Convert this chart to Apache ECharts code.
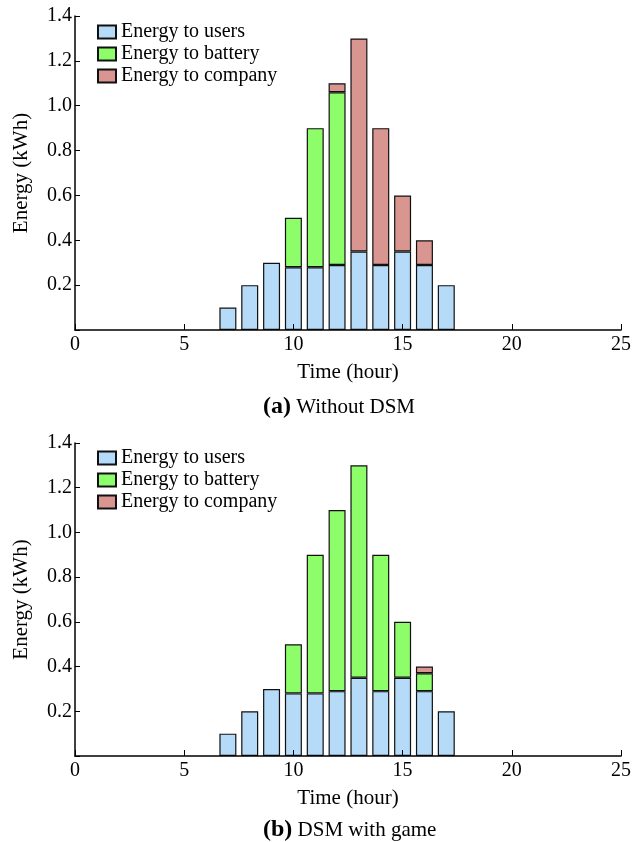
<!DOCTYPE html>
<html>
<head>
<meta charset="utf-8">
<script src="https://cdn.jsdelivr.net/npm/echarts@6/dist/echarts.min.js"></script>
<style>
  html, body { margin: 0; padding: 0; background: #fff; }
  #chart { width: 644px; height: 842px; }
</style>
</head>
<body>
<div id="chart"></div>
<script>
const hours = [7, 8, 9, 10, 11, 12, 13, 14, 15, 16, 17]
const xCats = Array.from({ length: 26 }, (_, i) => String(i))  // 0..25 h
const yTicks = [0.2, 0.4, 0.6, 0.8, 1.0, 1.2, 1.4]

// (a) without DSM
const usersA = [0.1, 0.2, 0.3, 0.28, 0.28, 0.29, 0.35, 0.29, 0.35, 0.29, 0.2]
const batteryA = [null, null, null, 0.22, 0.62, 0.77, null, null, null, null, null]
const companyA = [null, null, null, null, null, 0.04, 0.95, 0.61, 0.25, 0.11, null]

// (b) DSM with game
const usersB = [0.1, 0.2, 0.3, 0.28, 0.28, 0.29, 0.35, 0.29, 0.35, 0.29, 0.2]
const batteryB = [null, null, null, 0.22, 0.62, 0.81, 0.95, 0.61, 0.25, 0.08, null]
const companyB = [null, null, null, null, null, null, null, null, null, 0.03, null]

const names = ['Energy to users', 'Energy to battery', 'Energy to company']
const colors = ['#b5dbf9', '#8dfd6a', '#d9958f']
const font = 'Liberation Serif'

const chart = echarts.init(document.getElementById('chart'))

// spread the hourly values over the 0..25 category axis
function toCats(vals) {
  return xCats.map(c => {
    const i = hours.indexOf(Number(c))
    return i < 0 || vals[i] === null ? '-' : vals[i]
  })
}

function barSeries(idx, name, vals, stack) {
  return {
    name: name,
    type: 'bar',
    stack: stack,
    xAxisIndex: idx,
    yAxisIndex: idx,
    barWidth: 17,
    data: toCats(vals),
    itemStyle: { color: colors[names.indexOf(name)], borderColor: '#111', borderWidth: 1.2 },
    emphasis: { disabled: true }
  }
}

function xAxis(idx) {
  return {
    type: 'category',
    gridIndex: idx,
    data: xCats,
    boundaryGap: false,
    name: 'Time (hour)',
    nameLocation: 'middle',
    nameGap: 32,
    nameTextStyle: { fontFamily: font, fontSize: 21, color: '#000' },
    axisLine: { lineStyle: { color: '#000', width: 1.5 } },
    axisTick: { inside: true, length: 6, interval: 4, lineStyle: { color: '#000' } },
    axisLabel: { fontFamily: font, fontSize: 20, color: '#000', margin: 5, interval: 4 },
    splitLine: { show: false },
    z: 10
  }
}

function yAxis(idx) {
  return {
    type: 'value',
    gridIndex: idx,
    min: 0,
    max: 1.4,
    interval: 0.2,
    name: 'Energy (kWh)',
    nameLocation: 'middle',
    nameGap: 43,
    nameTextStyle: { fontFamily: font, fontSize: 21, color: '#000' },
    axisLine: { show: true, lineStyle: { color: '#000', width: 1.5 } },
    axisTick: { show: true, inside: true, length: 5, lineStyle: { color: '#000' } },
    axisLabel: { fontFamily: font, fontSize: 20, color: '#000', margin: 3,
      formatter: v => {
        const t = yTicks.find(y => Math.abs(y - v) < 1e-6)
        return t === undefined ? '' : t.toFixed(1)
      } },
    splitLine: { show: false },
    z: 10
  }
}

function legend(top) {
  return {
    data: names,
    orient: 'vertical',
    left: 92,
    top: top,
    icon: 'rect',
    itemWidth: 18,
    itemHeight: 13,
    itemGap: 2,
    selectedMode: false,
    textStyle: { fontFamily: font, fontSize: 20, color: '#000' }
  }
}

function caption(label, text, left, top) {
  return {
    text: '{b|' + label + '} ' + text,
    left: left,
    top: top,
    textStyle: {
      fontFamily: font, fontSize: 21, fontWeight: 'normal', color: '#000',
      rich: { b: { fontFamily: font, fontSize: 24, fontWeight: 'bold', color: '#000' } }
    }
  }
}

chart.setOption({
  animation: false,
  title: [
    caption('(a)', 'Without DSM', 258, 390),
    caption('(b)', 'DSM with game', 258, 813)
  ],
  legend: [legend(17), legend(443)],
  grid: [
    { left: 75, right: 23, top: 16, height: 314 },
    { left: 75, right: 23, top: 443, height: 313 }
  ],
  xAxis: [xAxis(0), xAxis(1)],
  yAxis: [yAxis(0), yAxis(1)],
  series: [
    barSeries(0, names[0], usersA, 'a'),
    barSeries(0, names[1], batteryA, 'a'),
    barSeries(0, names[2], companyA, 'a'),
    barSeries(1, names[0], usersB, 'b'),
    barSeries(1, names[1], batteryB, 'b'),
    barSeries(1, names[2], companyB, 'b')
  ]
})
</script>
</body>
</html>
